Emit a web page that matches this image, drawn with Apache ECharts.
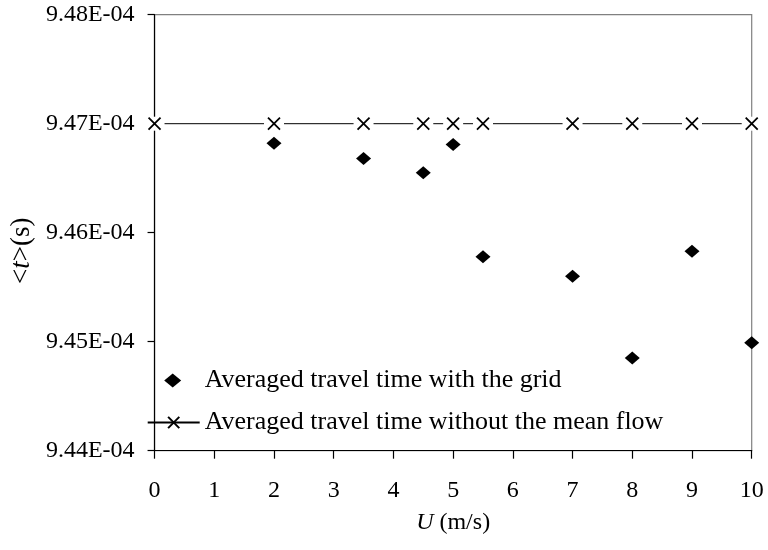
<!DOCTYPE html>
<html>
<head>
<meta charset="utf-8">
<script src="https://cdn.jsdelivr.net/npm/echarts@6/dist/echarts.min.js"></script>
<style>html,body{margin:0;padding:0;background:#fff;}#c{width:768px;height:550px;}</style>
</head>
<body>
<div id="c"></div>
<script>
// U (m/s)
const gridU = [2, 3.5, 4.5, 5, 5.5, 7, 8, 9, 10];
// averaged travel time with the grid (s)
const gridT = [9.4682e-4, 9.4668e-4, 9.4655e-4, 9.4681e-4, 9.4578e-4, 9.4560e-4, 9.4485e-4, 9.4583e-4, 9.4499e-4];
const noFlowU = [0, 2, 3.5, 4.5, 5, 5.5, 7, 8, 9, 10];
// averaged travel time without the mean flow (s)
const noFlowT = [9.47e-4, 9.47e-4, 9.47e-4, 9.47e-4, 9.47e-4, 9.47e-4, 9.47e-4, 9.47e-4, 9.47e-4, 9.47e-4];
const seriesNames = ['Averaged travel time with the grid', 'Averaged travel time without the mean flow'];

const pairs = (xs, ys) => xs.map((x, i) => [x, ys[i]]);
const FONT = '"Liberation Serif", "Times New Roman", serif';
const crossPath = 'path://M0 0 L10 10 M10 0 L0 10';

function fmtE(v) {
  const s = v.toExponential(2); // 9.48e-4
  return s.replace(/e([+-])(\d+)$/, (m, sg, d) => 'E' + sg + (d.length < 2 ? '0' + d : d));
}

const chart = echarts.init(document.getElementById('c'), null, {renderer: 'canvas'});
chart.setOption({
  animation: false,
  backgroundColor: '#fff',
  grid: {left: 153.5, right: 16.3, top: 14.7, bottom: 99.3, show: true, borderColor: '#808080', borderWidth: 1.2, containLabel: false},
  xAxis: {
    type: 'value', min: 0, max: 10, interval: 1,
    name: '{i|U} (m/s)', nameLocation: 'middle', nameGap: 60,
    nameTextStyle: {fontFamily: FONT, fontSize: 24, color: '#000', rich: {i: {fontFamily: FONT, fontSize: 24, fontStyle: 'italic', color: '#000'}}},
    axisLine: {show: true, lineStyle: {color: '#000', width: 1.2}},
    axisTick: {show: true, inside: false, length: 8, lineStyle: {color: '#000', width: 1.2}},
    axisLabel: {fontFamily: FONT, fontSize: 24, color: '#000', margin: 28},
    splitLine: {show: false}
  },
  yAxis: {
    type: 'value', min: 9.44e-4, max: 9.48e-4, interval: 1e-6,
    name: '<{i|t}>(s)', nameLocation: 'middle', nameGap: 110, nameRotate: 90,
    nameTextStyle: {fontFamily: FONT, fontSize: 27, color: '#000', padding: [0, 36, 0, 0],
      rich: {i: {fontFamily: FONT, fontSize: 27, fontStyle: 'italic', color: '#000'}}},
    axisLine: {show: true, lineStyle: {color: '#000', width: 1.2}},
    axisTick: {show: true, inside: false, length: 7, lineStyle: {color: '#000', width: 1.2}},
    axisLabel: {fontFamily: FONT, fontSize: 24, color: '#000', margin: 20, formatter: fmtE},
    splitLine: {show: false}
  },
  legend: {
    orient: 'vertical', left: 146.7, top: 367.5, padding: 0,
    itemWidth: 52, itemHeight: 14, itemGap: 16,
    textStyle: {fontFamily: FONT, fontSize: 26, color: '#000'},
    data: [
      {name: seriesNames[0], icon: 'path://M0 2 M52 12 M25 0 L33.5 7 L25 14 L16.5 7 Z'},
      {name: seriesNames[1]}
    ]
  },
  series: [
    {
      name: seriesNames[1], type: 'line', z: 2,
      data: pairs(noFlowU, noFlowT),
      symbol: crossPath, symbolSize: 12,
      lineStyle: {color: '#000', width: 1},
      itemStyle: {color: '#000', borderColor: '#000', borderWidth: 1.8}
    },
    {
      type: 'scatter', z: 3, silent: true,
      data: pairs(noFlowU, noFlowT),
      symbol: 'rect', symbolSize: [20, 14],
      itemStyle: {color: '#fff', opacity: 1}
    },
    {
      type: 'scatter', z: 4, silent: true,
      data: pairs(noFlowU, noFlowT),
      symbol: crossPath, symbolSize: 12,
      itemStyle: {color: '#000', borderColor: '#000', borderWidth: 1.8, opacity: 1}
    },
    {
      name: seriesNames[0], type: 'scatter', z: 5,
      data: pairs(gridU, gridT),
      symbol: 'diamond', symbolSize: [15, 13],
      itemStyle: {color: '#000', opacity: 1}
    }
  ]
});
</script>
</body>
</html>
